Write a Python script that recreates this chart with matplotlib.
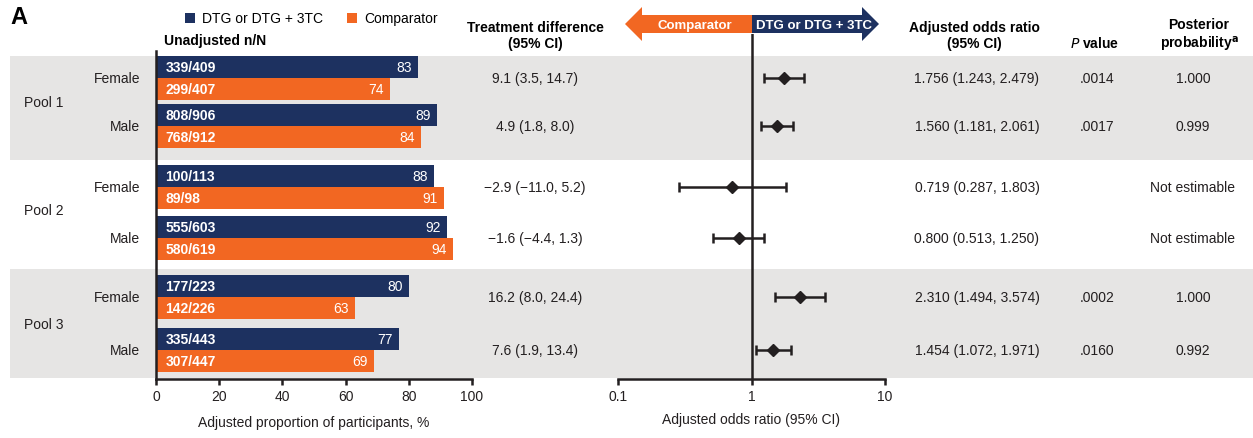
import matplotlib.pyplot as plt
from matplotlib.patches import FancyArrow, Rectangle

plt.rcParams['font.family'] = ['Liberation Sans', 'DejaVu Sans']
plt.rcParams['font.size'] = 10

navy = '#1d3160'
orange = '#f26722'
band = '#e6e5e4'
ink = '#231f20'

pools = ['Pool 1', 'Pool 2', 'Pool 3']
sexes = ['Female', 'Male', 'Female', 'Male', 'Female', 'Male']
dtg_pct = [83, 89, 88, 92, 80, 77]
comp_pct = [74, 84, 91, 94, 63, 69]
dtg_nN = ['339/409', '808/906', '100/113', '555/603', '177/223', '335/443']
comp_nN = ['299/407', '768/912', '89/98', '580/619', '142/226', '307/447']
trt_diff = ['9.1 (3.5, 14.7)', '4.9 (1.8, 8.0)', '\u22122.9 (\u221211.0, 5.2)',
            '\u22121.6 (\u22124.4, 1.3)', '16.2 (8.0, 24.4)', '7.6 (1.9, 13.4)']
aor = [1.756, 1.560, 0.719, 0.800, 2.310, 1.454]
aor_lo = [1.243, 1.181, 0.287, 0.513, 1.494, 1.072]
aor_hi = [2.479, 2.061, 1.803, 1.250, 3.574, 1.971]
p_vals = ['.0014', '.0017', '', '', '.0002', '.0160']
posterior = ['1.000', '0.999', 'Not estimable', 'Not estimable', '1.000', '0.992']

W, H = 1253, 439
fig = plt.figure(figsize=(W / 100, H / 100), dpi=100)

# background layer in pixel coordinates
bg = fig.add_axes([0, 0, 1, 1])
bg.set_xlim(0, W)
bg.set_ylim(H, 0)
bg.axis('off')

row_y = [79, 127, 188, 239, 298, 351]
pool_y = [103, 211, 325]
bands = [(57, 161, band), (161, 270, 'white'), (270, 379, band)]
for top, bot, c in bands:
    bg.add_patch(Rectangle((10, top), W - 10, bot - top, color=c, lw=0, zorder=0))

bg.text(10, 18, 'A', fontsize=17, fontweight='bold', va='center', ha='left')
bg.add_patch(Rectangle((185, 14), 10, 10, color=navy, lw=0))
bg.text(202, 19, 'DTG or DTG + 3TC', va='center', ha='left', fontsize=10)
bg.add_patch(Rectangle((347, 14), 10, 10, color=orange, lw=0))
bg.text(364, 19, 'Comparator', va='center', ha='left', fontsize=10)
bg.text(164, 41, 'Unadjusted n/N', va='center', ha='left', fontweight='bold')

bg.text(535, 36, 'Treatment difference\n(95% CI)', ha='center', va='center',
        fontweight='bold', linespacing=1.15)
bg.text(974, 36, 'Adjusted odds ratio\n(95% CI)', ha='center', va='center',
        fontweight='bold', linespacing=1.15)
bg.text(1095, 44, r'$\bf{\it{P}}$ value', ha='center', va='center', fontweight='bold')
bg.text(1199, 36, 'Posterior\nprobability$^\\mathbf{a}$', ha='center', va='center',
        fontweight='bold', linespacing=1.15)

for name, y in zip(pools, pool_y):
    bg.text(24, y, name, ha='left', va='center', color=ink)
for i, y in enumerate(row_y):
    bg.text(140, y, sexes[i], ha='right', va='center', color=ink)
    bg.text(535, y, trt_diff[i], ha='center', va='center', color=ink)
    bg.text(977, y, f'{aor[i]:.3f} ({aor_lo[i]:.3f}, {aor_hi[i]:.3f})',
            ha='center', va='center', color=ink)
    bg.text(1097, y, p_vals[i], ha='center', va='center', color=ink)
    bg.text(1193, y, posterior[i], ha='center', va='center', color=ink)

# direction arrows above the forest plot
bg.add_patch(FancyArrow(752, 25, -127, 0, width=18, head_width=34, head_length=17,
                        length_includes_head=True, color=orange, lw=0))
bg.add_patch(FancyArrow(752, 25, 127, 0, width=18, head_width=34, head_length=17,
                        length_includes_head=True, color=navy, lw=0))
bg.text(695, 26, 'Comparator', color='white', fontweight='bold', ha='center',
        va='center', fontsize=9.5)
bg.text(814, 26, 'DTG or DTG + 3TC', color='white', fontweight='bold', ha='center',
        va='center', fontsize=9.5)

def pix_axes(x0, x1, y0, y1):
    return fig.add_axes([x0 / W, 1 - y1 / H, (x1 - x0) / W, (y1 - y0) / H])

# bar chart of adjusted proportions
ax = pix_axes(156, 472, 52, 380)
ax.patch.set_alpha(0)
ax.set_xlim(0, 100)
ax.set_ylim(380, 52)
bh = 22
for i, y in enumerate(row_y):
    yd = y - 11
    yc = y + 11
    ax.barh(yd, dtg_pct[i], height=bh, color=navy)
    ax.barh(yc, comp_pct[i], height=bh, color=orange)
    ax.text(3, yd, dtg_nN[i], color='white', fontweight='bold', va='center', ha='left')
    ax.text(3, yc, comp_nN[i], color='white', fontweight='bold', va='center', ha='left')
    ax.text(dtg_pct[i] - 2, yd, str(dtg_pct[i]), color='white', va='center', ha='right')
    ax.text(comp_pct[i] - 2, yc, str(comp_pct[i]), color='white', va='center', ha='right')
for s in ['top', 'right']:
    ax.spines[s].set_visible(False)
for s in ['left', 'bottom']:
    ax.spines[s].set_linewidth(1.8)
    ax.spines[s].set_color(ink)
ax.set_yticks([])
ax.set_xticks([0, 20, 40, 60, 80, 100])
ax.tick_params(axis='x', length=4, width=1.8, color=ink, labelsize=10,
               labelcolor=ink, pad=3)
ax.set_xlabel('Adjusted proportion of participants, %', labelpad=9, color=ink)

# forest plot of adjusted odds ratios
fx = pix_axes(618, 885, 35, 380)
fx.patch.set_alpha(0)
fx.set_xscale('log')
fx.set_xlim(0.1, 10)
fx.set_ylim(380, 35)
fx.axvline(1, color=ink, lw=1.8)
for i, y in enumerate(row_y):
    fx.errorbar(aor[i], y, xerr=[[aor[i] - aor_lo[i]], [aor_hi[i] - aor[i]]],
                fmt='D', color=ink, ms=6, capsize=3.5, elinewidth=1.8, capthick=1.8)
for s in ['top', 'right', 'left']:
    fx.spines[s].set_visible(False)
fx.spines['bottom'].set_linewidth(1.8)
fx.spines['bottom'].set_color(ink)
fx.set_yticks([])
fx.set_xticks([0.1, 1, 10])
fx.set_xticklabels(['0.1', '1', '10'])
fx.minorticks_off()
fx.tick_params(axis='x', length=4, width=1.8, color=ink, labelsize=10,
               labelcolor=ink, pad=3)
fx.set_xlabel('Adjusted odds ratio (95% CI)', labelpad=7, color=ink)

fig.savefig('out.png', dpi=100)
